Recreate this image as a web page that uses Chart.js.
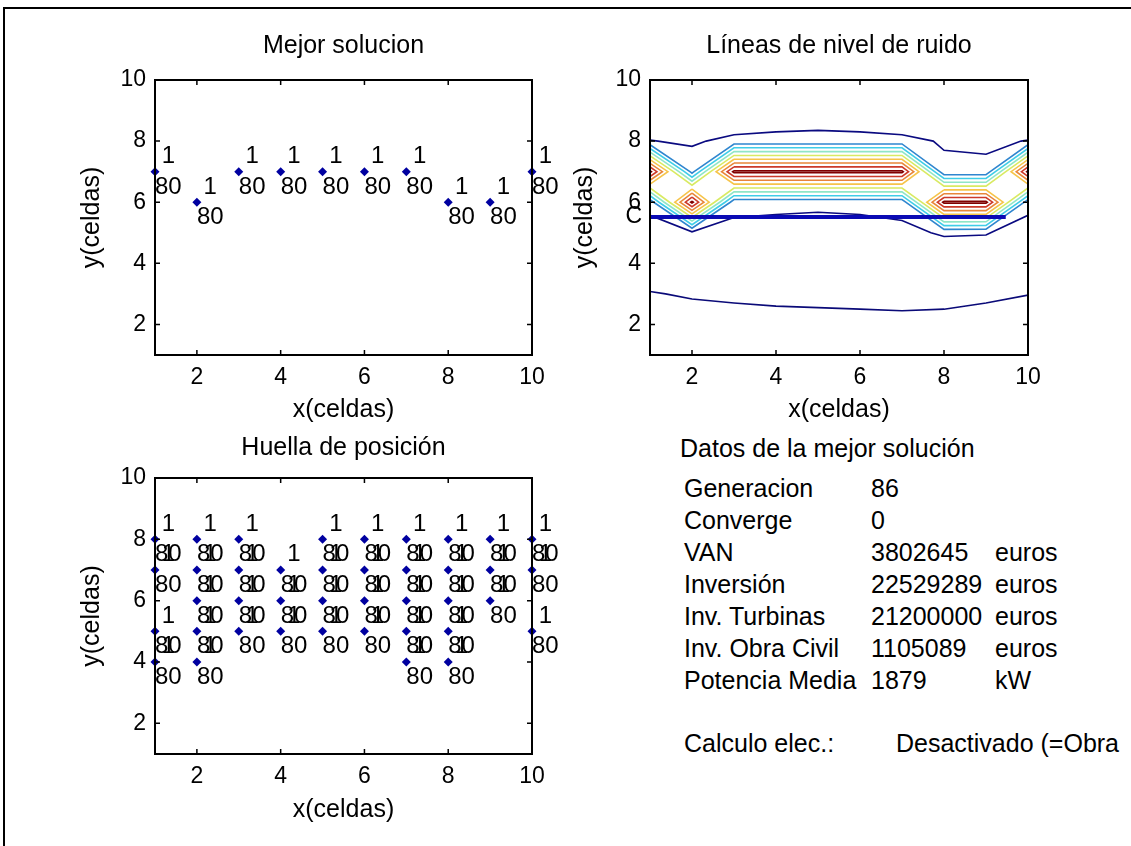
<!DOCTYPE html>
<html>
<head>
<meta charset="utf-8">
<script src="https://cdn.jsdelivr.net/npm/chart.js@4.4.1/dist/chart.umd.min.js"></script>
<style>
  html, body { margin: 0; padding: 0; background: #fff; }
  body { width: 1131px; height: 846px; overflow: hidden; position: relative; font-family: 'Liberation Sans', Arial, sans-serif; }
  #frame { position: absolute; left: 3px; top: 7px; width: 1200px; height: 900px; border-top: 2px solid #000; border-left: 2px solid #000; }
  canvas { position: absolute; }
  .t { position: absolute; font-size: 25px; line-height: 30px; color: #000; white-space: nowrap; }
</style>
</head>
<body>
<div id="frame"></div>
<canvas id="c1" width="560" height="430" style="left:0px;top:0px"></canvas>
<canvas id="c2" width="571" height="430" style="left:560px;top:0px"></canvas>
<canvas id="c3" width="560" height="446" style="left:0px;top:400px"></canvas>
<div id="panel"></div>
<script>
// ---------------- data ----------------
const axisMin = 1, axisMax = 10;
const xTicks = [2, 4, 6, 8, 10];
const yTicks = [2, 4, 6, 8, 10];

// "Mejor solucion": best layout (one turbine per column)
const bestX = [1, 2, 3, 4, 5, 6, 7, 8, 9, 10];
const bestY = [7, 6, 7, 7, 7, 7, 7, 6, 6, 7];
const bestType = [1, 1, 1, 1, 1, 1, 1, 1, 1, 1];
const bestHub = [80, 80, 80, 80, 80, 80, 80, 80, 80, 80];

// "Huella de posición": footprint of positions
const footX = [1,1,1,1, 2,2,2,2,2, 3,3,3,3, 4,4,4, 5,5,5,5, 6,6,6,6, 7,7,7,7,7, 8,8,8,8,8, 9,9,9, 10,10,10];
const footY = [8,7,5,4, 8,7,6,5,4, 8,7,6,5, 7,6,5, 8,7,6,5, 8,7,6,5, 8,7,6,5,4, 8,7,6,5,4, 8,7,6, 8,7,5];
const footType = footX.map(() => 1);
const footHub = footX.map(() => 80);

// "Líneas de nivel de ruido": noise grid (rows y=10 .. y=1, columns x=1 .. 10)
const gridX = [1, 2, 3, 4, 5, 6, 7, 8, 9, 10];
const gridY = [10, 9, 8, 7, 6, 5, 4, 3, 2, 1];
const noiseGrid = [
  [0.20, 0.20, 0.20, 0.20, 0.20, 0.20, 0.20, 0.20, 0.20, 0.20],
  [0.10, 0.10, 0.05, 0.42, 0.54, 0.42, 0.05, 0.30, 0.30, 0.10],
  [1.03, 0.873, 1.25, 1.25, 1.25, 1.25, 1.25, 0.914, 0.85, 1.03],
  [9.25, 1.62, 9.25, 9.25, 9.25, 9.25, 9.25, 1.20, 1.20, 9.25],
  [1.30, 9.25, 1.30, 1.30, 1.30, 1.30, 1.30, 9.25, 9.25, 1.30],
  [0.60, 0.745, 0.70, 0.55, 0.39, 0.55, 0.80, 1.09, 1.05, 0.60],
  [0.35, 0.35, 0.35, 0.35, 0.35, 0.35, 0.35, 0.35, 0.35, 0.35],
  [-0.03, 0.051, 0.107, 0.167, 0.205, 0.25, 0.306, 0.25, 0.107, 0.0104],
  [-0.25, -0.25, -0.25, -0.25, -0.25, -0.25, -0.25, -0.25, -0.25, -0.25],
  [-0.50, -0.50, -0.50, -0.50, -0.50, -0.50, -0.50, -0.50, -0.50, -0.50]
];
const contourLevels = [0, 1, 2, 3, 4, 5, 6, 7, 8, 9];
const contourColors = ['#0a0a78', '#0a0a80', '#2f86cf', '#3fcde8', '#8fe6c6', '#d9ea62', '#f6c44a', '#e8863a', '#cc3a2a', '#800000'];
const cableX = [1, 9.47];
const cableY = [5.52, 5.52];
const cableLabel = 'C';

// "Datos de la mejor solución"
const statLabels = ['Generacion', 'Converge', 'VAN', 'Inversión', 'Inv. Turbinas', 'Inv. Obra Civil', 'Potencia Media'];
const statValues = ['86', '0', '3802645', '22529289', '21200000', '1105089', '1879'];
const statUnits = ['', '', 'euros', 'euros', 'euros', 'euros', 'kW'];
const elecLabel = 'Calculo elec.:';
const elecValue = 'Desactivado (=Obra';

// ---------------- helpers ----------------
const FONT = "'Liberation Sans', Arial, sans-serif";
const TXT = 25, TICK = 23, LBL = 24;

function traceContours(rows, xs, ys, level) {
  // rows[j][i] is value at (xs[i], ys[j]); ys may be descending
  const segs = [];
  const interp = (a, b) => {
    const t = (level - a.z) / (b.z - a.z);
    return [a.p[0] + t * (b.p[0] - a.p[0]), a.p[1] + t * (b.p[1] - a.p[1])];
  };
  for (let j = 0; j < ys.length - 1; j++) {
    for (let i = 0; i < xs.length - 1; i++) {
      const c = [
        { p: [xs[i], ys[j]], z: rows[j][i] },
        { p: [xs[i + 1], ys[j]], z: rows[j][i + 1] },
        { p: [xs[i + 1], ys[j + 1]], z: rows[j + 1][i + 1] },
        { p: [xs[i], ys[j + 1]], z: rows[j + 1][i] }
      ];
      const cross = [null, null, null, null];
      const idx = [];
      for (let e = 0; e < 4; e++) {
        const a = c[e], b = c[(e + 1) % 4];
        if ((a.z >= level) !== (b.z >= level)) { cross[e] = interp(a, b); idx.push(e); }
      }
      if (idx.length === 2) segs.push([cross[idx[0]], cross[idx[1]]]);
      else if (idx.length === 4) {
        const center = (c[0].z + c[1].z + c[2].z + c[3].z) / 4;
        const isolateAbove = center < level;
        for (let k = 0; k < 4; k++) {
          if ((c[k].z >= level) === isolateAbove) segs.push([cross[(k + 3) % 4], cross[k]]);
        }
      }
    }
  }
  return chainSegments(segs);
}

function chainSegments(segs) {
  const key = p => p[0].toFixed(5) + ',' + p[1].toFixed(5);
  const used = segs.map(() => false);
  const ends = new Map();
  segs.forEach((s, n) => s.forEach(pt => {
    const k = key(pt);
    if (!ends.has(k)) ends.set(k, []);
    ends.get(k).push(n);
  }));
  const grow = (line, atEnd) => {
    let go = true;
    while (go) {
      go = false;
      const pt = atEnd ? line[line.length - 1] : line[0];
      const k = key(pt);
      for (const m of ends.get(k)) {
        if (used[m]) continue;
        used[m] = true;
        const s = segs[m];
        const other = key(s[0]) === k ? s[1] : s[0];
        if (atEnd) line.push(other); else line.unshift(other);
        go = true;
        break;
      }
    }
  };
  const lines = [];
  for (let n = 0; n < segs.length; n++) {
    if (used[n]) continue;
    used[n] = true;
    const line = [segs[n][0], segs[n][1]];
    grow(line, true);
    grow(line, false);
    lines.push(line);
  }
  return lines;
}

const boxPlugin = {
  id: 'matlabBox',
  afterDraw(chart) {
    const { ctx, chartArea: a, scales: { x, y } } = chart;
    ctx.save();
    ctx.strokeStyle = '#000';
    ctx.lineWidth = 2;
    ctx.strokeRect(a.left, a.top, a.right - a.left, a.bottom - a.top);
    ctx.lineWidth = 1.5;
    ctx.beginPath();
    x.ticks.forEach(t => {
      const px = x.getPixelForValue(t.value);
      ctx.moveTo(px, a.bottom); ctx.lineTo(px, a.bottom - 5);
      ctx.moveTo(px, a.top); ctx.lineTo(px, a.top + 5);
    });
    y.ticks.forEach(t => {
      const py = y.getPixelForValue(t.value);
      ctx.moveTo(a.left, py); ctx.lineTo(a.left + 5, py);
      ctx.moveTo(a.right, py); ctx.lineTo(a.right - 5, py);
    });
    ctx.stroke();
    ctx.restore();
  }
};

function labelPlugin(xs, ys, types, hubs) {
  return {
    id: 'turbineLabels',
    afterDatasetsDraw(chart) {
      const { ctx, scales: { x, y } } = chart;
      ctx.save();
      ctx.font = LBL + 'px ' + FONT;
      ctx.fillStyle = '#000';
      ctx.textAlign = 'left';
      ctx.textBaseline = 'middle';
      xs.forEach((xv, i) => {
        ctx.fillText(' ' + types[i], x.getPixelForValue(xv), y.getPixelForValue(ys[i] + 0.5));
        ctx.fillText(String(hubs[i]), x.getPixelForValue(xv), y.getPixelForValue(ys[i] - 0.5));
      });
      ctx.restore();
    }
  };
}

const cablePlugin = {
  id: 'cableLabel',
  afterDraw(chart) {
    const { ctx, chartArea: a, scales: { y } } = chart;
    ctx.save();
    ctx.font = TICK + 'px ' + FONT;
    ctx.fillStyle = '#000';
    ctx.textAlign = 'right';
    ctx.textBaseline = 'middle';
    ctx.fillText(cableLabel, a.left - 8, y.getPixelForValue(cableY[0]));
    ctx.restore();
  }
};

function baseOptions(cfg) {
  const tickFont = { family: FONT, size: TICK };
  const txtFont = { family: FONT, size: TXT, weight: 'normal' };
  return {
    responsive: false,
    animation: false,
    events: [],
    layout: { padding: cfg.pad },
    plugins: {
      legend: { display: false },
      tooltip: { enabled: false },
      title: { display: true, text: cfg.title, color: '#000', font: txtFont, fullSize: false, padding: cfg.titlePad }
    },
    scales: {
      x: {
        type: 'linear', min: axisMin, max: axisMax,
        afterBuildTicks: s => { s.ticks = xTicks.map(v => ({ value: v })); },
        afterFit: s => { s.height = cfg.xH; },
        ticks: { color: '#000', font: tickFont, padding: 9, maxRotation: 0, autoSkip: false },
        grid: { display: false, drawTicks: false },
        border: { display: false },
        title: { display: true, text: 'x(celdas)', color: '#000', font: txtFont, padding: 0 }
      },
      y: {
        type: 'linear', min: axisMin, max: axisMax,
        afterBuildTicks: s => { s.ticks = yTicks.map(v => ({ value: v })); },
        afterFit: s => { s.width = cfg.yW; },
        ticks: { color: '#000', font: tickFont, padding: 9, autoSkip: false },
        grid: { display: false, drawTicks: false },
        border: { display: false },
        title: { display: true, text: 'y(celdas)', color: '#000', font: txtFont, padding: 0 }
      }
    }
  };
}

function markerDataset(xs, ys) {
  return {
    data: xs.map((v, i) => ({ x: v, y: ys[i] })),
    pointStyle: 'rectRot', pointRadius: 4.5, pointBackgroundColor: '#0000a0',
    pointBorderWidth: 0, showLine: false, clip: false
  };
}

// ---------------- chart 1: Mejor solucion ----------------
new Chart(document.getElementById('c1'), {
  type: 'scatter',
  data: { datasets: [markerDataset(bestX, bestY)] },
  options: baseOptions({ title: 'Mejor solucion', pad: { left: 77, top: 0, right: 28, bottom: 5 }, titlePad: { top: 31, bottom: 19 }, xH: 70, yW: 78 }),
  plugins: [boxPlugin, labelPlugin(bestX, bestY, bestType, bestHub)]
});

// ---------------- chart 2: contour ----------------
const contourSets = [];
contourSets.push({
  data: cableX.map((v, i) => ({ x: v, y: cableY[i] })),
  showLine: true, borderColor: '#0a0ab4', borderWidth: 4, pointRadius: 0, tension: 0, fill: false
});
contourLevels.forEach((lv, n) => {
  traceContours(noiseGrid, gridX, gridY, lv).forEach(line => {
    contourSets.push({
      data: line.map(p => ({ x: p[0], y: p[1] })),
      showLine: true, borderColor: contourColors[n], borderWidth: 1.6,
      pointRadius: 0, tension: 0, fill: false
    });
  });
});
new Chart(document.getElementById('c2'), {
  type: 'scatter',
  data: { datasets: contourSets },
  options: baseOptions({ title: 'Líneas de nivel de ruido', pad: { left: 10, top: 0, right: 103, bottom: 5 }, titlePad: { top: 31, bottom: 19 }, xH: 70, yW: 80 }),
  plugins: [boxPlugin, cablePlugin]
});

// ---------------- chart 3: Huella de posición ----------------
new Chart(document.getElementById('c3'), {
  type: 'scatter',
  data: { datasets: [markerDataset(footX, footY)] },
  options: baseOptions({ title: 'Huella de posición', pad: { left: 77, top: 0, right: 28, bottom: 21 }, titlePad: { top: 33, bottom: 15 }, xH: 71, yW: 78 }),
  plugins: [boxPlugin, labelPlugin(footX, footY, footType, footHub)]
});

// ---------------- data panel ----------------
const panel = document.getElementById('panel');
function addText(txt, left, centerY) {
  const d = document.createElement('div');
  d.className = 't';
  d.textContent = txt;
  d.style.left = left + 'px';
  d.style.top = (centerY - 15) + 'px';
  panel.appendChild(d);
}
addText('Datos de la mejor solución', 680, 448);
statLabels.forEach((s, i) => {
  const cy = 488 + i * 32;
  addText(s, 684, cy);
  addText(statValues[i], 871, cy);
  if (statUnits[i]) addText(statUnits[i], 995, cy);
});
addText(elecLabel, 684, 743);
addText(elecValue, 896, 743);
</script>
</body>
</html>
